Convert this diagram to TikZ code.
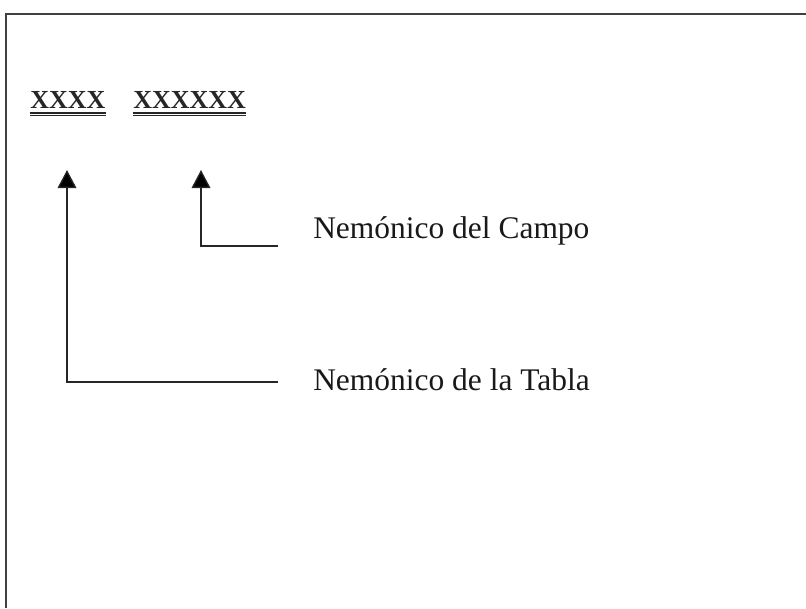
\documentclass[tikz,border=0pt]{standalone}
\usepackage{fontspec}
\setmainfont{Liberation Serif}
\usetikzlibrary{arrows.meta}
\begin{document}
\begin{tikzpicture}[x=0.75pt,y=-0.75pt,
  frame/.style={line width=1.5pt,draw=black!75},
  conn/.style={line width=1pt,draw=black!85},
  arr/.style={conn,-{Triangle[length=13.5pt,width=14pt,fill=black]}},
  code/.style={inner sep=0pt,anchor=base west,font=\fontsize{19.5}{22}\selectfont\bfseries,text=black!85},
  lbl/.style={inner sep=0pt,anchor=base west,font=\fontsize{23.6}{28}\selectfont,text=black!90},
  uline/.style={line width=1.3pt,draw=black!85}]
\useasboundingbox (0,0) rectangle (806,608);
% frame (open on right and bottom)
\draw[frame] (6,608) -- (6,14) -- (806,14);
% codes
\node[code] (tbl) at (30,108) {XXXX};
\node[code] (fld) at (133,108) {XXXXXX};
\draw[uline] ([yshift=-3.6pt]tbl.base west) -- ([yshift=-3.6pt]tbl.base east);
\draw[uline] ([yshift=-5.6pt]tbl.base west) -- ([yshift=-5.6pt]tbl.base east);
\draw[uline] ([yshift=-3.6pt]fld.base west) -- ([yshift=-3.6pt]fld.base east);
\draw[uline] ([yshift=-5.6pt]fld.base west) -- ([yshift=-5.6pt]fld.base east);
% labels
\node[lbl] (campo) at (313,238) {Nemónico del Campo};
\node[lbl] (tabla) at (313,390) {Nemónico de la Tabla};
% connector anchors
\coordinate (tipT) at (67,170);
\coordinate (tipF) at (201,170);
\coordinate (endF) at (278,246);
\coordinate (endT) at (278,382);
\draw[arr] (endF) -| (tipF);
\draw[arr] (endT) -| (tipT);
\end{tikzpicture}
\end{document}
